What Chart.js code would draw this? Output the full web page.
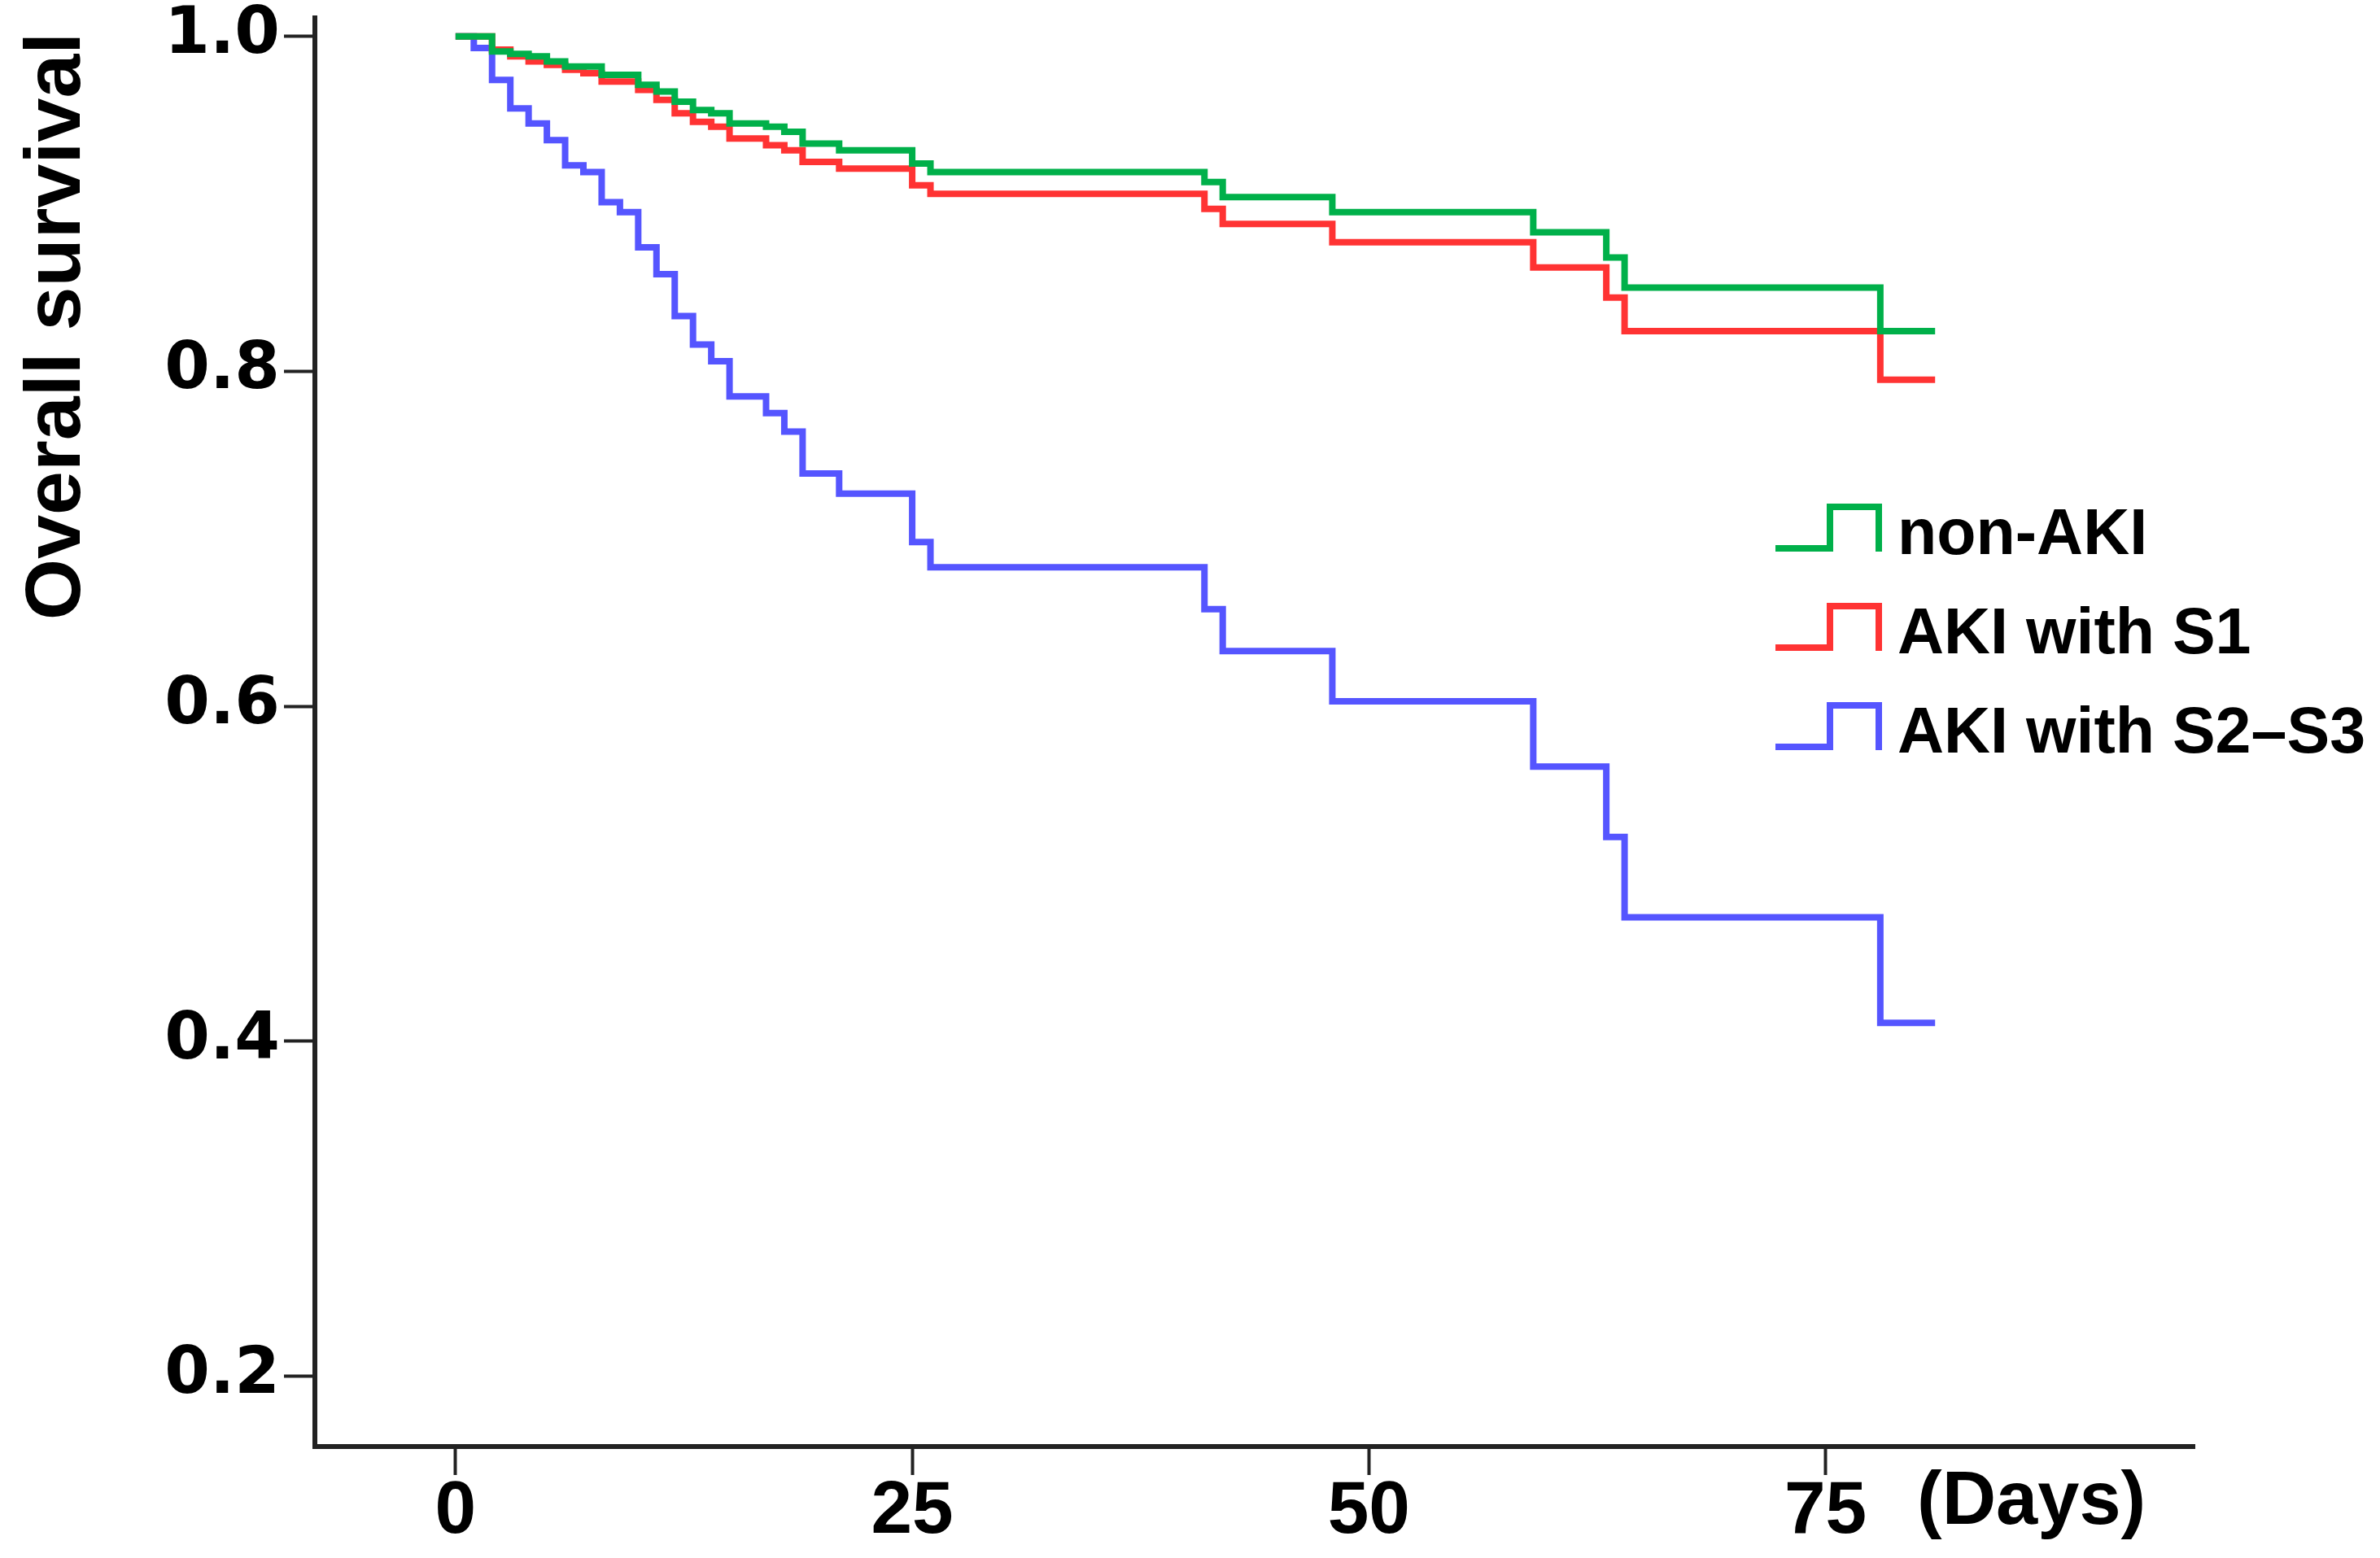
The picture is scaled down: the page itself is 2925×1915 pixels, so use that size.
<!DOCTYPE html>
<html>
<head>
<meta charset="utf-8">
<title>Overall survival</title>
<script src="https://cdn.jsdelivr.net/npm/chart.js@4.4.1/dist/chart.umd.min.js"></script>
<style>
  html, body { margin: 0; padding: 0; background: #fff; }
  #wrap { position: relative; width: 2925px; height: 1915px; }
</style>
</head>
<body>
<div id="wrap"><canvas id="km"></canvas></div>
<script>
// survival steps (day of event, survival after it)
const nonAkiDays = [0, 2, 3, 4, 5, 6, 8, 10, 11, 12, 13, 14, 15, 17, 18, 19, 21, 25, 26, 41, 42, 48, 59, 63, 64, 78, 81];
const nonAkiSurv = [1.0, 0.991, 0.9895, 0.988, 0.985, 0.982, 0.977, 0.971, 0.967, 0.961, 0.956, 0.954, 0.948, 0.946, 0.943, 0.936, 0.932, 0.924, 0.919, 0.913, 0.904, 0.895, 0.883, 0.868, 0.850, 0.824, 0.824];

const aki1Days = [0, 2, 3, 4, 5, 6, 7, 8, 10, 11, 12, 13, 14, 15, 17, 18, 19, 21, 25, 26, 41, 42, 48, 59, 63, 64, 78, 81];
const aki1Surv = [1.0, 0.992, 0.988, 0.985, 0.983, 0.980, 0.978, 0.973, 0.968, 0.962, 0.954, 0.949, 0.946, 0.939, 0.935, 0.932, 0.925, 0.921, 0.911, 0.906, 0.897, 0.888, 0.877, 0.862, 0.844, 0.824, 0.795, 0.795];

const aki23Days = [0, 1, 2, 3, 4, 5, 6, 7, 8, 9, 10, 11, 12, 13, 14, 15, 17, 18, 19, 21, 25, 26, 41, 42, 48, 59, 63, 64, 78, 81];
const aki23Surv = [1.0, 0.993, 0.974, 0.957, 0.948, 0.938, 0.923, 0.919, 0.901, 0.895, 0.874, 0.858, 0.833, 0.816, 0.806, 0.785, 0.775, 0.764, 0.739, 0.727, 0.698, 0.683, 0.658, 0.633, 0.603, 0.564, 0.522, 0.474, 0.411, 0.411];

const groupLabels = ['non-AKI', 'AKI with S1', 'AKI with S2\u2013S3'];
const groupColors = ['#00b04a', '#ff3333', '#5555ff'];

const xTicks = [0, 25, 50, 75];
const yTicks = [0.2, 0.4, 0.6, 0.8, 1.0];

function toPoints(days, surv) {
  return days.map((d, i) => ({ x: d, y: surv[i] }));
}

// step-shaped legend on the right, plus the two free-standing labels
const kmDecor = {
  id: 'kmDecor',
  afterDraw(chart) {
    const ctx = chart.ctx;
    ctx.save();

    chart.data.datasets.forEach((ds, i) => {
      const dy = i * 122;
      ctx.strokeStyle = ds.borderColor;
      ctx.lineWidth = 8;
      ctx.lineJoin = 'miter';
      ctx.beginPath();
      ctx.moveTo(2182, 674 + dy);
      ctx.lineTo(2249, 674 + dy);
      ctx.lineTo(2249, 623 + dy);
      ctx.lineTo(2309, 623 + dy);
      ctx.lineTo(2309, 678 + dy);
      ctx.stroke();

      ctx.fillStyle = '#000';
      ctx.font = 'bold 79px "Liberation Sans", Arial, sans-serif';
      ctx.textAlign = 'left';
      ctx.textBaseline = 'alphabetic';
      ctx.fillText(ds.label, 2332, 681 + dy);
    });

    ctx.fillStyle = '#000';
    ctx.font = 'bold 92px "Liberation Sans", Arial, sans-serif';
    ctx.textAlign = 'left';
    ctx.textBaseline = 'alphabetic';
    ctx.fillText('(Days)', 2356, 1873);

    ctx.translate(98, 401);
    ctx.rotate(-Math.PI / 2);
    ctx.font = 'bold 97px "Liberation Sans", Arial, sans-serif';
    ctx.textAlign = 'center';
    ctx.fillText('Overall survival', 0, 0);

    ctx.restore();
  }
};

const ctx = document.getElementById('km');
new Chart(ctx, {
  type: 'line',
  data: {
    datasets: [
      { label: groupLabels[0], data: toPoints(nonAkiDays, nonAkiSurv), borderColor: groupColors[0] },
      { label: groupLabels[1], data: toPoints(aki1Days, aki1Surv), borderColor: groupColors[1] },
      { label: groupLabels[2], data: toPoints(aki23Days, aki23Surv), borderColor: groupColors[2] },
    ].map(ds => Object.assign(ds, {
      stepped: true,
      borderWidth: 8,
      pointRadius: 0,
      fill: false,
      borderJoinStyle: 'miter',
    })),
  },
  options: {
    responsive: true,
    maintainAspectRatio: false,
    animation: false,
    layout: { padding: { left: 0, top: 22, right: 228, bottom: 0 } },
    plugins: {
      legend: { display: false },
      tooltip: { enabled: false },
    },
    scales: {
      x: {
        type: 'linear',
        min: -7.7,
        max: 95.2,
        afterBuildTicks: scale => { scale.ticks = xTicks.map(v => ({ value: v })); },
        afterFit: scale => {
          scale.height = 137;
          scale.paddingLeft = 0;
          scale.paddingRight = 0;
        },
        border: { display: true, color: '#222', width: 6 },
        grid: {
          drawOnChartArea: false,
          drawTicks: true,
          tickLength: 35,
          tickColor: '#222',
          tickWidth: 4,
        },
        ticks: {
          color: '#000',
          padding: 0,
          maxRotation: 0,
          font: { family: '"Liberation Sans", Arial, sans-serif', size: 91, weight: 'bold', lineHeight: 1 },
          callback: v => String(v),
        },
      },
      y: {
        type: 'linear',
        min: 0.158,
        max: 1.011,
        afterBuildTicks: scale => { scale.ticks = yTicks.map(v => ({ value: v })); },
        afterFit: scale => {
          scale.width = 387;
          scale.paddingTop = 0;
          scale.paddingBottom = 0;
        },
        border: { display: true, color: '#222', width: 6 },
        grid: {
          drawOnChartArea: false,
          drawTicks: true,
          tickLength: 38,
          tickColor: '#222',
          tickWidth: 4,
        },
        ticks: {
          color: '#000',
          padding: 5,
          font: { family: '"DejaVu Sans", sans-serif', size: 80, weight: 'bold' },
          callback: v => Number(v).toFixed(1),
        },
      },
    },
  },
  plugins: [kmDecor],
});
</script>
</body>
</html>
